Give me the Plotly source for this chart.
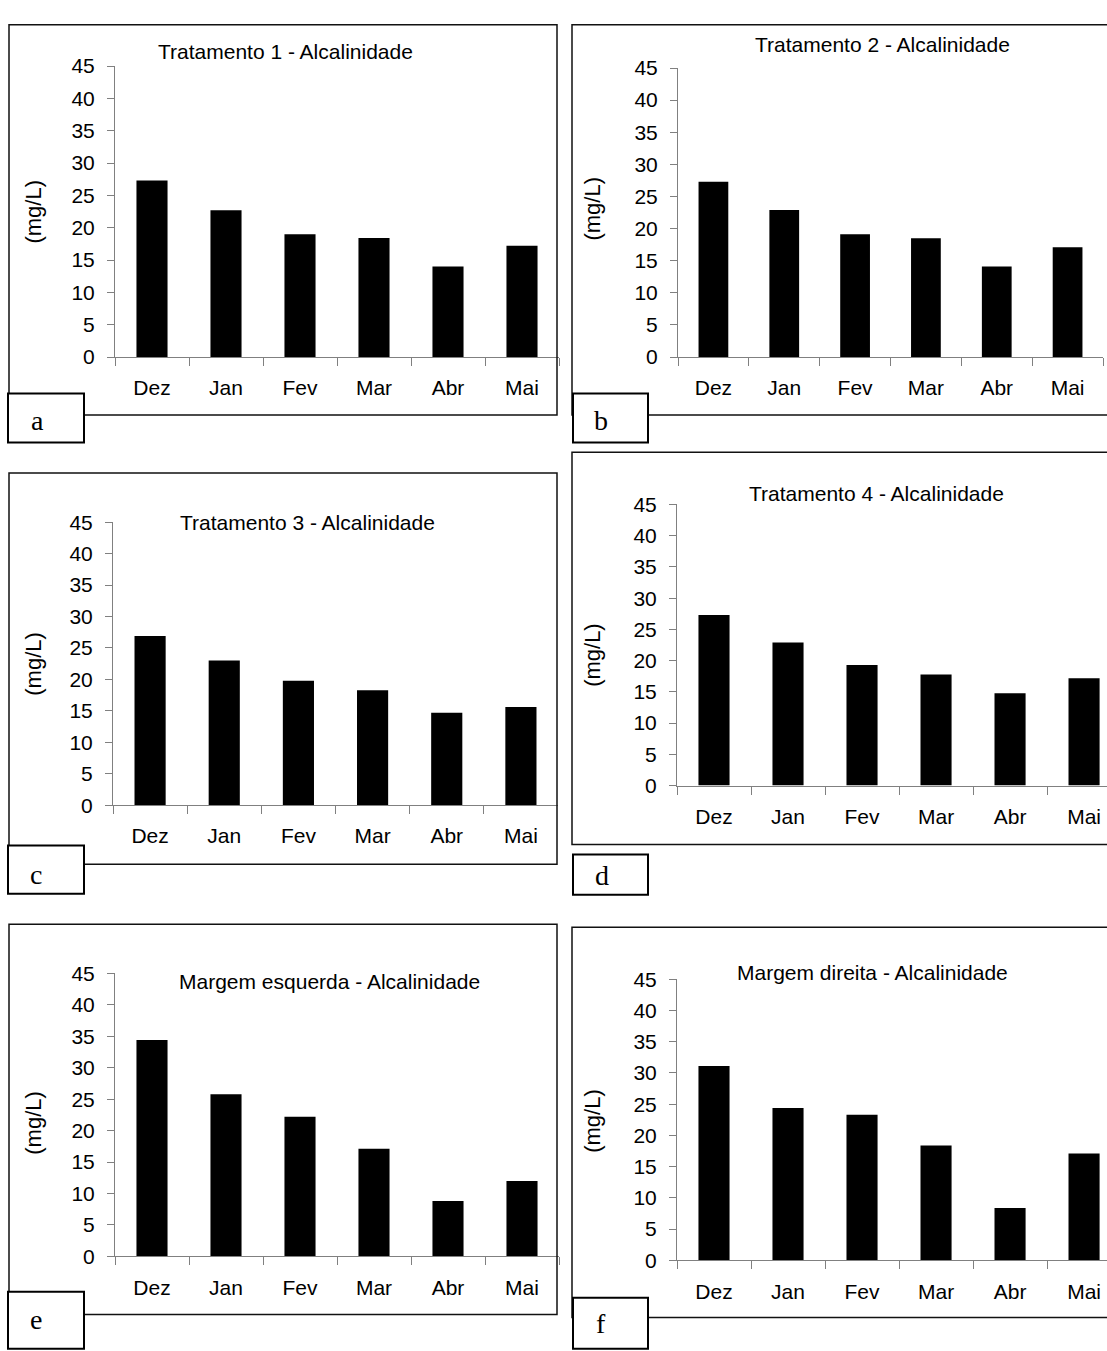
import plotly.graph_objects as go

# ---------------- data ----------------
categories = ["Dez", "Jan", "Fev", "Mar", "Abr", "Mai"]
tratamento1 = [27.3, 22.7, 19.0, 18.4, 14.0, 17.2]
tratamento2 = [27.3, 22.9, 19.1, 18.5, 14.1, 17.1]
tratamento3 = [26.9, 23.0, 19.8, 18.3, 14.7, 15.6]
tratamento4 = [27.3, 22.9, 19.3, 17.8, 14.8, 17.2]
margem_esquerda = [34.4, 25.8, 22.2, 17.1, 8.8, 12.0]
margem_direita = [31.1, 24.4, 23.3, 18.4, 8.4, 17.1]

titles = ["Tratamento 1 - Alcalinidade", "Tratamento 2 - Alcalinidade",
          "Tratamento 3 - Alcalinidade", "Tratamento 4 - Alcalinidade",
          "Margem esquerda - Alcalinidade", "Margem direita - Alcalinidade"]
letters = ["a", "b", "c", "d", "e", "f"]
y_ticks = [0, 5, 10, 15, 20, 25, 30, 35, 40, 45]
y_label = "(mg/L)"
series = [tratamento1, tratamento2, tratamento3, tratamento4, margem_esquerda, margem_direita]

# ---------------- layout helpers (pixels) ----------------
W, H = 1107, 1351
def px(x): return x / W
def py(y): return 1 - y / H

panels = [
    dict(x0=115, x1=559, yt=55, yb=351, xr=5.5,
         frame=(9, 13, 557, 410), box=(8, 388, 84, 438),
         title=(285, 40), ylab=(34, 203), letter=(37, 416)),
    dict(x0=678, x1=1103, yt=57, yb=351, xr=5.5,
         frame=(572, 13, 1115, 410), box=(573, 388, 648, 438),
         title=(882, 33), ylab=(593, 200), letter=(601, 416)),
    dict(x0=113, x1=558, yt=519, yb=807, xr=5.5,
         frame=(9, 469, 557, 867), box=(8, 848, 84, 897),
         title=(307, 519), ylab=(34, 663), letter=(36, 877)),
    dict(x0=677, x1=1107, yt=501, yb=787, xr=5.31,
         frame=(572, 448, 1115, 847), box=(573, 857, 648, 898),
         title=(876, 490), ylab=(593, 654), letter=(602, 878)),
    dict(x0=115, x1=559, yt=978, yb=1266, xr=5.5,
         frame=(9, 928, 557, 1325), box=(8, 1302, 84, 1360),
         title=(329, 986), ylab=(34, 1130), letter=(36, 1330)),
    dict(x0=677, x1=1107, yt=984, yb=1270, xr=5.31,
         frame=(572, 931, 1115, 1328), box=(573, 1308, 648, 1360),
         title=(872, 977), ylab=(593, 1128), letter=(601, 1334)),
]

FONT = "Liberation Sans, Arial, sans-serif"
AXIS_GRAY = "#808080"

fig = go.Figure()
layout = dict(
    width=W, height=H, autosize=False,
    margin=dict(l=0, r=0, t=0, b=0),
    paper_bgcolor="white", plot_bgcolor="rgba(0,0,0,0)",
    showlegend=False, bargap=0.58,
    font=dict(family=FONT, size=20, color="black"),
)
annotations = []
shapes = []

for i, (p, vals) in enumerate(zip(panels, series), start=1):
    sx = "" if i == 1 else str(i)
    fig.add_trace(go.Bar(
        x=categories, y=vals, xaxis="x" + sx, yaxis="y" + sx,
        marker=dict(color="black", line=dict(width=0)),
        hoverinfo="x+y",
    ))
    layout["xaxis" + sx] = dict(
        domain=[px(p["x0"]), px(p["x1"])], anchor="y" + sx,
        type="category", range=[-0.5, p["xr"]],
        showline=True, linecolor=AXIS_GRAY, linewidth=1,
        ticks="outside", tickson="boundaries", ticklen=8, tickcolor=AXIS_GRAY, tickwidth=1,
        showgrid=False, zeroline=False, fixedrange=True,
        tickfont=dict(family=FONT, size=21, color="black"),
        ticklabelstandoff=12,
    )
    layout["yaxis" + sx] = dict(
        domain=[py(p["yb"]), py(p["yt"])], anchor="x" + sx,
        range=[0, 45], tickvals=y_ticks,
        showline=True, linecolor=AXIS_GRAY, linewidth=1,
        ticks="outside", ticklen=7, tickcolor=AXIS_GRAY, tickwidth=1,
        showgrid=False, zeroline=False, fixedrange=True,
        tickfont=dict(family=FONT, size=21, color="black"),
        ticklabelstandoff=8,
    )
    fx0, fy0, fx1, fy1 = p["frame"]
    shapes.append(dict(type="rect", xref="paper", yref="paper",
                       x0=px(fx0), x1=px(fx1), y0=py(fy1), y1=py(fy0),
                       line=dict(color="#111111", width=1.5), fillcolor="rgba(0,0,0,0)",
                       layer="above"))
    tx, ty = p["title"]
    annotations.append(dict(text=titles[i - 1], x=px(tx), y=py(ty), xref="paper", yref="paper",
                            xanchor="center", yanchor="middle", showarrow=False,
                            font=dict(family=FONT, size=21, color="black")))
    lx, ly = p["ylab"]
    annotations.append(dict(text=y_label, x=px(lx), y=py(ly), xref="paper", yref="paper",
                            xanchor="center", yanchor="middle", showarrow=False, textangle=-90,
                            font=dict(family=FONT, size=22, color="black")))

for i, p in enumerate(panels):
    bx0, by0, bx1, by1 = p["box"]
    shapes.append(dict(type="rect", xref="paper", yref="paper",
                       x0=px(bx0), x1=px(bx1), y0=py(by1), y1=py(by0),
                       line=dict(color="black", width=2), fillcolor="white",
                       layer="above"))
    lx, ly = p["letter"]
    annotations.append(dict(text=letters[i], x=px(lx), y=py(ly), xref="paper", yref="paper",
                            xanchor="center", yanchor="middle", showarrow=False,
                            font=dict(family="Liberation Serif, Times New Roman, serif",
                                      size=28, color="black")))

layout["annotations"] = annotations
layout["shapes"] = shapes
fig.update_layout(**layout)

fig.write_html("out.html")
